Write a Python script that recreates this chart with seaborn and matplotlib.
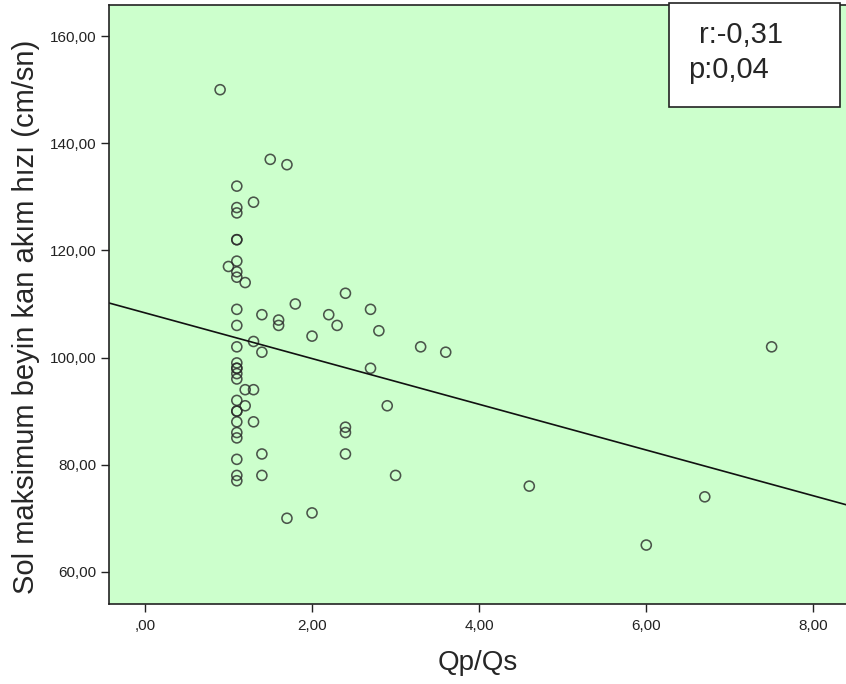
import numpy as np
import pandas as pd
import seaborn as sns
import matplotlib.pyplot as plt
from matplotlib.patches import Rectangle

# data
qp_qs = [0.9, 1.5, 1.7, 1.1, 1.3, 1.1, 1.1, 1.1, 1.1, 1.1, 1.0, 1.1, 1.1, 1.2,
         2.4, 1.8, 1.1, 2.7, 1.4, 2.2, 1.6, 1.6, 1.1, 2.3, 2.8, 2.0, 1.3, 1.1,
         3.3, 7.5, 1.4, 3.6, 1.1, 1.1, 1.1, 1.1, 1.1, 2.7, 1.2, 1.3, 1.1, 1.2,
         2.9, 1.1, 1.1, 1.1, 1.3, 2.4, 2.4, 1.1, 1.1, 1.4, 2.4, 1.1, 1.1, 1.4,
         3.0, 1.1, 4.6, 6.7, 1.7, 2.0, 6.0]
sol_hiz = [150, 137, 136, 132, 129, 128, 127, 122, 122, 118, 117, 116, 115, 114,
           112, 110, 109, 109, 108, 108, 107, 106, 106, 106, 105, 104, 103, 102,
           102, 102, 101, 101, 99, 98, 98, 97, 96, 98, 94, 94, 92, 91,
           91, 90, 90, 88, 88, 87, 86, 86, 85, 82, 82, 81, 78, 78,
           78, 77, 76, 74, 70, 71, 65]

x_ticks = [0, 2, 4, 6, 8]
x_tick_labels = [",00", "2,00", "4,00", "6,00", "8,00"]
y_ticks = [60, 80, 100, 120, 140, 160]
y_tick_labels = ["60,00", "80,00", "100,00", "120,00", "140,00", "160,00"]

df = pd.DataFrame({"Qp/Qs": qp_qs, "sol": sol_hiz})

sns.set_style("ticks")
plt.rcParams['font.family'] = ['Liberation Sans', 'DejaVu Sans']

fig = plt.figure(figsize=(8.46, 6.84), dpi=100)
ax = fig.add_axes([0.1288, 0.117, 0.8712, 0.8756])
ax.set_facecolor('#ccffcc')
ax.set_xlim(-0.43, 8.39)
ax.set_ylim(54.0, 165.8)

sns.regplot(data=df, x="Qp/Qs", y="sol", ax=ax, ci=None, truncate=False,
            scatter_kws=dict(s=52, facecolors='none', edgecolors='#2a2a2a', linewidths=1.15),
            line_kws=dict(color='#111111', lw=1.2))

ax.set_xticks(x_ticks)
ax.set_xticklabels(x_tick_labels, fontsize=11)
ax.set_yticks(y_ticks)
ax.set_yticklabels(y_tick_labels, fontsize=11)
ax.tick_params(axis='both', direction='out', length=6, width=1, color='#222222', labelcolor='#222222')
ax.tick_params(axis='x', pad=5)
ax.tick_params(axis='y', pad=3)

ax.set_xlabel("Qp/Qs", fontsize=20, labelpad=12)
ax.set_ylabel("Sol maksimum beyin kan akım hızı (cm/sn)", fontsize=21)
ax.yaxis.set_label_coords(-0.094, 0.48)

for side in ['left', 'bottom', 'top']:
    ax.spines[side].set_color('#222222')
    ax.spines[side].set_linewidth(1.2)
ax.spines['right'].set_visible(False)

# r / p box
fig.patches.append(Rectangle((0.791, 0.8436), 0.202, 0.152, transform=fig.transFigure,
                             facecolor='white', edgecolor='#222222', lw=1.2, zorder=5))
fig.text(0.826, 0.937, "r:-0,31", fontsize=21, va='baseline', zorder=6)
fig.text(0.813, 0.886, "p:0,04", fontsize=21, va='baseline', zorder=6)

plt.savefig("out.png", dpi=100)
